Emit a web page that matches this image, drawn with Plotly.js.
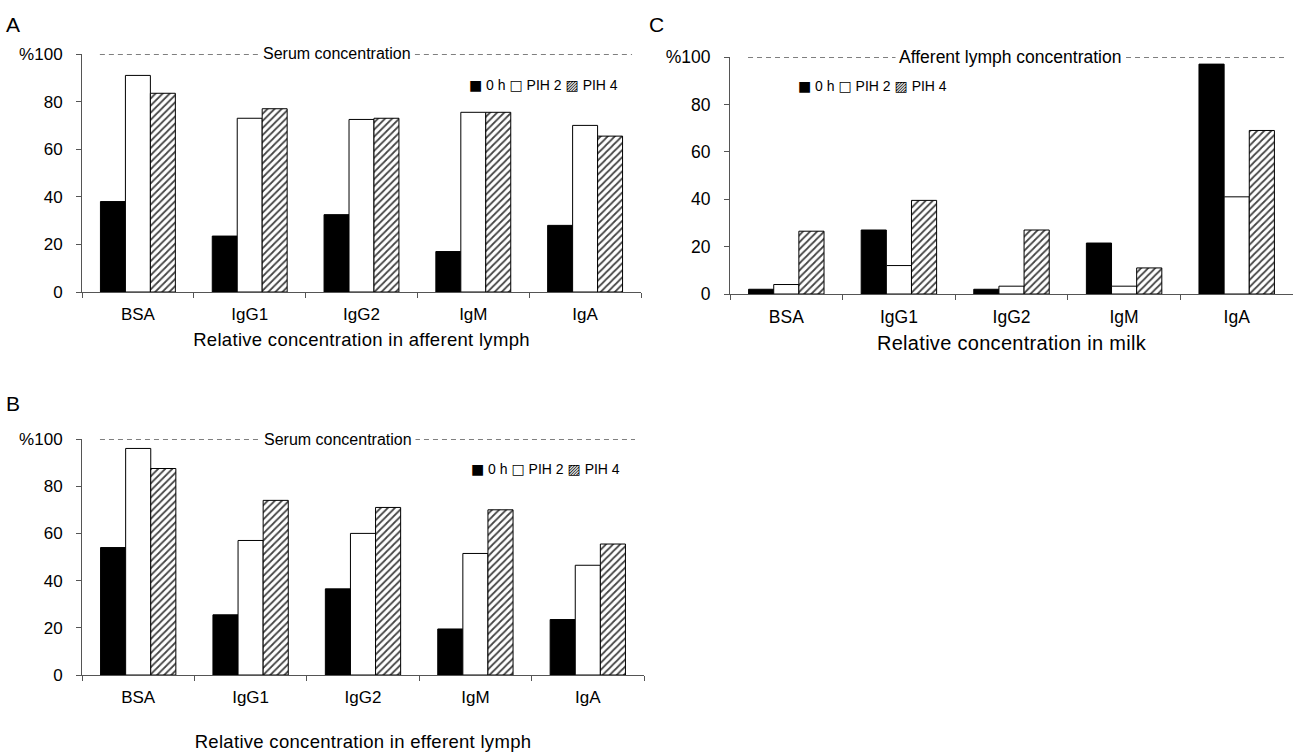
<!DOCTYPE html>
<html><head><meta charset="utf-8">
<script src="https://cdn.plot.ly/plotly-3.0.1.min.js"></script>
<style>
html,body{margin:0;padding:0;background:#fff}
#chart{width:1294px;height:755px}
.g-xtitle text,.g-x2title text,.g-x3title text{letter-spacing:0.3px}
</style>
</head><body><div id="chart"></div>
<script>
const categories = ['BSA', 'IgG1', 'IgG2', 'IgM', 'IgA'];
const seriesNames = ['0 h', 'PIH 2', 'PIH 4'];
const afferent0h   = [38, 23.5, 32.5, 17, 28];
const afferentPIH2 = [91, 73, 72.5, 75.5, 70];
const afferentPIH4 = [83.5, 77, 73, 75.5, 65.5];
const efferent0h   = [54, 25.5, 36.5, 19.5, 23.5];
const efferentPIH2 = [96, 57, 60, 51.5, 46.5];
const efferentPIH4 = [87.5, 74, 71, 70, 55.5];
const milk0h   = [2, 27, 2, 21.5, 97];
const milkPIH2 = [4, 12, 3.3, 3.3, 41];
const milkPIH4 = [26.5, 39.5, 27, 11, 69];
const yTickVals = [0, 20, 40, 60, 80, 100];
const yTickText = ['0', '20', '40', '60', '80', '%100'];
const panelLabels = ['A', 'B', 'C'];
const xTitles = ['Relative concentration in afferent lymph', 'Relative concentration in efferent lymph', 'Relative concentration in milk'];
const refTexts = ['Serum concentration', 'Serum concentration', 'Afferent lymph concentration'];
const sq = s => '<span style="font-family:DejaVu Sans;font-size:14px">' + s + '</span>';
const legendText = sq('■') + ' 0 h ' + sq('□') + ' PIH 2 ' + sq('▨') + ' PIH 4';

const FONT = 'Liberation Sans, Arial, sans-serif';
const W = 1294, H = 755;

const markers = [
  {color: '#000000', line: {color: '#000', width: 1}},
  {color: '#ffffff', line: {color: '#000', width: 1}},
  {color: '#ffffff', line: {color: '#000', width: 1}, pattern: {shape: '/', fgcolor: '#444', bgcolor: '#fff', size: 5, solidity: 0.35}}
];

const panels = [
  {data: [afferent0h, afferentPIH2, afferentPIH4], xa: 'x', ya: 'y', xd: [82, 641], yd: [292, 54], standoff: 9,
   legend: [467, 85], refX: 0.456, label: [13, 24], tick: 17, title: 18.5, ref: 16},
  {data: [efferent0h, efferentPIH2, efferentPIH4], xa: 'x2', ya: 'y2', xd: [82, 644], yd: [675, 439], standoff: 28,
   legend: [469, 469], refX: 0.456, label: [13, 403], tick: 17, title: 18.5, ref: 16},
  {data: [milk0h, milkPIH2, milkPIH4], xa: 'x3', ya: 'y3', xd: [730, 1293], yd: [294, 57], standoff: 9,
   legend: [796, 86], refX: 0.497, label: [657, 24], tick: 17.5, title: 20, ref: 17.5}
];

const traces = [];
panels.forEach(p => {
  p.data.forEach((vals, si) => {
    traces.push({
      type: 'bar', x: categories, y: vals, name: seriesNames[si],
      xaxis: p.xa, yaxis: p.ya, marker: markers[si], showlegend: false,
      hoverinfo: 'x+y+name'
    });
  });
});

const layout = {
  width: W, height: H, margin: {l: 0, r: 0, t: 0, b: 0},
  paper_bgcolor: '#fff', plot_bgcolor: '#fff',
  font: {family: FONT, size: 16, color: '#000'},
  barmode: 'group', bargap: 0.33, bargroupgap: 0,
  shapes: [], annotations: []
};

panels.forEach((p, pi) => {
  const sfx = pi === 0 ? '' : String(pi + 1);
  layout['xaxis' + sfx] = {
    domain: [p.xd[0] / W, p.xd[1] / W], anchor: p.ya,
    type: 'category', showline: true, linecolor: '#555', linewidth: 1,
    ticks: 'outside', ticklen: 5, tickcolor: '#555', tickson: 'boundaries',
    ticklabelstandoff: 7,
    showgrid: false, zeroline: false, tickfont: {size: p.tick},
    title: {text: xTitles[pi], font: {size: p.title}, standoff: p.standoff}
  };
  layout['yaxis' + sfx] = {
    domain: [(H - p.yd[0]) / H, (H - p.yd[1]) / H], anchor: p.xa,
    range: [0, 100], tickvals: yTickVals, ticktext: yTickText,
    showline: true, linecolor: '#555', linewidth: 1,
    ticks: 'outside', ticklen: 5, tickcolor: '#555', ticklabelstandoff: 10,
    showgrid: false, zeroline: false, tickfont: {size: p.tick}
  };
  layout.shapes.push({
    type: 'line', xref: p.xa + ' domain', yref: p.ya, x0: 0.032, x1: 0.984, y0: 100, y1: 100,
    line: {color: '#000', width: 1, dash: '5px,4px'}
  });
  layout.annotations.push({
    xref: p.xa + ' domain', yref: p.ya, x: p.refX, y: 100, text: refTexts[pi],
    showarrow: false, bgcolor: '#fff', borderpad: 3, font: {size: p.ref}
  });
  layout.annotations.push({
    xref: 'paper', yref: 'paper', x: p.legend[0] / W, y: (H - p.legend[1]) / H,
    xanchor: 'left', yanchor: 'middle', text: legendText, showarrow: false, font: {size: 14}
  });
  layout.annotations.push({
    xref: 'paper', yref: 'paper', x: p.label[0] / W, y: (H - p.label[1]) / H,
    xanchor: 'center', yanchor: 'middle', text: panelLabels[pi], showarrow: false, font: {size: 21}
  });
});

Plotly.newPlot('chart', traces, layout, {displayModeBar: false, staticPlot: true});
</script>
</body></html>
